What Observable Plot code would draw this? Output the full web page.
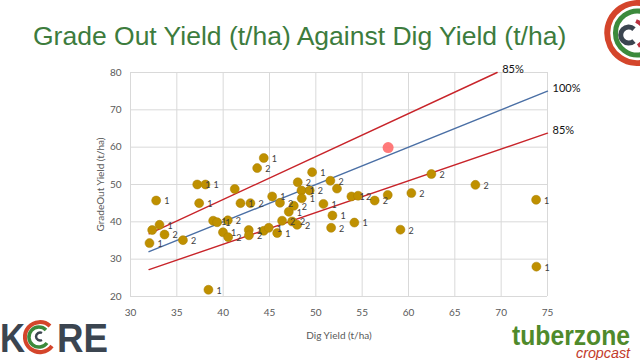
<!DOCTYPE html>
<html><head><meta charset="utf-8">
<script src="https://cdn.jsdelivr.net/npm/d3@7"></script>
<script src="https://cdn.jsdelivr.net/npm/@observablehq/plot@0.6"></script>
<style>
body{margin:0;background:#fff;width:640px;height:360px;overflow:hidden;position:relative;font-family:"Liberation Sans",Arial,sans-serif}
#title{position:absolute;left:33px;top:21px;font-size:26.5px;line-height:30px;color:#3d7c3d;white-space:nowrap}
#chart{position:absolute;left:0;top:0}
.logo{position:absolute}
</style>
</head><body>
<div id="chart"></div>
<div id="title">Grade Out Yield (t/ha) Against Dig Yield (t/ha)</div>
<svg class="logo" style="left:596px;top:0" width="44" height="66">
  <path d="M 52 5 A 30 30 0 1 0 52 61" fill="none" stroke="#d4452b" stroke-width="6"/>
  <path d="M 48 12 A 22 22 0 1 0 48 54" fill="none" stroke="#3c8a3c" stroke-width="5"/>
  <path d="M 38 29 A 8 8 0 1 0 38 41" fill="none" stroke="#3b4550" stroke-width="5"/>
  <path d="M 40 21 A 14 14 0 0 1 42 46" fill="none" stroke="#b8303f" stroke-width="4"/>
</svg>
<svg class="logo" style="left:0;top:308px" width="115" height="52">
  <text x="0" y="43.5" font-family="Liberation Sans" font-weight="bold" font-size="40" fill="#3b4550" textLength="25" lengthAdjust="spacingAndGlyphs">K</text>
  <path d="M 50 18 A 15 15 0 1 0 52 38" fill="none" stroke="#d4452b" stroke-width="4"/>
  <path d="M 46 22 A 10 10 0 1 0 47 35" fill="none" stroke="#3c8a3c" stroke-width="3.5"/>
  <path d="M 42 25 A 4 4 0 1 0 42 32" fill="none" stroke="#3b4550" stroke-width="2.5"/>
  <text x="57" y="43.5" font-family="Liberation Sans" font-weight="bold" font-size="40" fill="#3b4550" textLength="51" lengthAdjust="spacingAndGlyphs">RE</text>
</svg>
<svg class="logo" style="left:508px;top:312px" width="132" height="48">
  <text font-family="Liberation Sans"><tspan x="4" y="33" font-weight="bold" font-size="27" fill="#4f8a2b" textLength="118" lengthAdjust="spacingAndGlyphs">tuberzone</tspan><tspan x="68" y="45.5" font-style="italic" font-size="14" fill="#c23a2b" textLength="54" lengthAdjust="spacingAndGlyphs">cropcast</tspan></text>
</svg>
<script>
// ---- data ----
const digYield = [32.05,32.34,32.77,33.13,33.67,35.66,37.20,38.09,37.41,38.41,38.92,39.35,39.98,40.50,40.54,41.25,41.87,42.94,43.67,44.38,42.76,42.78,44.38,44.92,45.83,45.29,46.13,46.36,47.08,47.62,47.44,47.98,48.05,48.45,49.34,48.48,49.60,50.82,51.57,52.28,51.79,51.65,53.84,54.56,54.16,56.35,57.76,59.13,60.31,62.47,67.22,73.77,73.80];
const gradeOutYield = [34.3,37.8,45.7,39.2,36.6,35.1,50.0,50.0,45.0,21.8,40.3,39.9,37.2,40.4,35.9,48.8,45.0,45.0,54.4,57.1,37.8,36.4,37.6,38.4,37.0,46.8,45.1,40.3,42.7,44.3,40.1,39.2,50.6,48.4,48.4,46.3,53.3,44.8,51.0,48.9,41.7,38.4,46.8,47.0,39.8,45.7,47.2,37.9,47.7,52.8,49.9,45.9,28.0];
const pointLabels = ["1","","1","1","2","2","1","1","1","1","1","1","1","2","2","","1","2","2","1","1","2","","1","1","1","2","2","1","2","2","2","2","1","2","1","1","1","2","","1","2","1","2","1","2","","2","2","2","2","1","1"];
const highlightDig = [57.8];
const highlightGrade = [59.9];
const guideNames = ["85%","100%","85%"];
const guideRatios = [1.15,1,0.85];
const guideStart = 32, guideEnd = 75;
const xTicks = [30,35,40,45,50,55,60,65,70,75];
const yTicks = [20,30,40,50,60,70,80];
const yMax = 80;

const points = digYield.map((d,i)=>({x:d,y:gradeOutYield[i],label:pointLabels[i]}));
const highlight = highlightDig.map((d,i)=>({x:d,y:highlightGrade[i]}));
const guides = [];
const guideEnds = [];
guideRatios.forEach((k,i)=>{
  const xe = Math.min(guideEnd, yMax/k);
  guides.push({g:i,x:guideStart,y:guideStart*k},{g:i,x:xe,y:xe*k});
  guideEnds.push({g:i,x:xe,y:xe*k,name:guideNames[i]});
});
const guideColors = ["#c8242a","#4a6fa5","#c8242a"];

const chart = Plot.plot({
  width:640, height:360,
  marginLeft:130, marginRight:93, marginTop:72, marginBottom:64,
  style:{fontFamily:"Lato, 'Liberation Sans', sans-serif", fontSize:"10px", color:"#595959", background:"transparent"},
  x:{domain:[30,75]},
  y:{domain:[20,80]},
  marks:[
    Plot.gridX(xTicks,{stroke:"#d9d9d9",strokeOpacity:1}),
    Plot.gridY(yTicks,{stroke:"#d9d9d9",strokeOpacity:1}),
    Plot.axisX(xTicks,{tickSize:0,tickPadding:12,fontSize:10,label:"Dig Yield (t/ha)",labelAnchor:"center",labelOffset:42,labelArrow:"none"}),
    Plot.axisY(yTicks,{tickSize:0,tickPadding:9,fontSize:10,label:"GradeOut Yield (t/ha)",labelAnchor:"center",labelOffset:34,labelArrow:"none"}),
    Plot.line(guides,{x:"x",y:"y",z:"g",stroke:d=>guideColors[d.g],strokeWidth:1.4}),
    Plot.text(guideEnds,{x:"x",y:"y",text:"name",textAnchor:"start",fontSize:11,fill:"#111",dx:5,dy:-3}),
    Plot.dot(points,{x:"x",y:"y",r:4.5,fill:"#bf9000",stroke:"#a87e00",strokeWidth:0.5}),
    Plot.text(points,{x:"x",y:"y",text:"label",textAnchor:"start",dx:8,dy:1,fontSize:9,fill:"#404040"}),
    Plot.dot(highlight,{x:"x",y:"y",r:5.5,fill:"#ff6b6b",fillOpacity:0.9})
  ]
});
document.getElementById("chart").appendChild(chart);
</script>
</body></html>
